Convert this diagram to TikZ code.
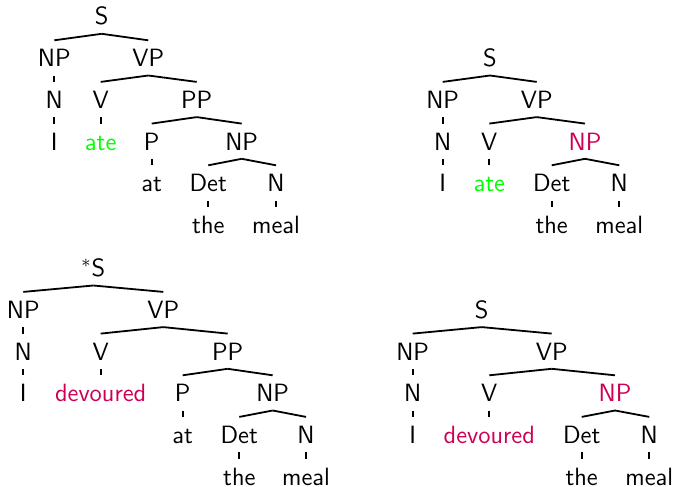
\documentclass[tikz,border=0pt]{standalone}
\usepackage{fontspec}
\definecolor{okgreen}{RGB}{0,255,0}
\definecolor{badred}{RGB}{205,0,85}

\begin{document}
\begin{tikzpicture}[x=0.5pt,y=-0.5pt]
      \useasboundingbox (0,0) rectangle (675,487);

      \begin{scope}[every node/.style={anchor=base, inner sep=0pt, text height=13pt, text depth=4.2pt,
          font=\sffamily\fontsize{12.5}{15}\selectfont}]
        % ate, with PP
        \node (a-s)    at (101.7,25)    {S};
        \node (a-np)   at (54.3,66.7)   {NP};
        \node (a-vp)   at (148.3,66.7)  {VP};
        \node (a-n)    at (54.3,108.3)  {N};
        \node (a-v)    at (100.7,108.3) {V};
        \node (a-pp)   at (196.7,108.3) {PP};
        \node (a-i)    at (54.3,150)    {I};
        \node[text=okgreen] (a-verb) at (100.7,150) {ate};
        \node (a-p)    at (151.7,150)   {P};
        \node (a-obj)  at (241.7,150)   {NP};
        \node (a-at)   at (151.7,191.7) {at};
        \node (a-det)  at (208.3,191.7) {Det};
        \node (a-nn)   at (276,191.7)   {N};
        \node (a-the)  at (208.3,233.3) {the};
        \node (a-meal) at (276,233.3)   {meal};

        % ate, with NP
        \node (b-s)    at (490,66.7)    {S};
        \node (b-np)   at (442.7,108.3) {NP};
        \node (b-vp)   at (536.7,108.3) {VP};
        \node (b-n)    at (442.7,150)   {N};
        \node (b-v)    at (489.3,150)   {V};
        \node[text=badred] (b-obj) at (585,150) {NP};
        \node (b-i)    at (442.7,191.7) {I};
        \node[text=okgreen] (b-verb) at (489.3,191.7) {ate};
        \node (b-det)  at (551.7,191.7) {Det};
        \node (b-nn)   at (619.3,191.7) {N};
        \node (b-the)  at (551.7,233.3) {the};
        \node (b-meal) at (619.3,233.3) {meal};

        % devoured, with PP
        \node (c-s)    at (93.3,276.7)  {$^*$S};
        \node (c-np)   at (23.3,318.3)  {NP};
        \node (c-vp)   at (163.3,318.3) {VP};
        \node (c-n)    at (23.3,360)    {N};
        \node (c-v)    at (100.7,360)   {V};
        \node (c-pp)   at (227.7,360)   {PP};
        \node (c-i)    at (23.3,401.7)  {I};
        \node[text=badred] (c-verb) at (100.7,401.7) {devoured};
        \node (c-p)    at (182.7,401.7) {P};
        \node (c-obj)  at (272.7,401.7) {NP};
        \node (c-at)   at (182.7,443.3) {at};
        \node (c-det)  at (239.3,443.3) {Det};
        \node (c-nn)   at (306,443.3)   {N};
        \node (c-the)  at (239.3,485)   {the};
        \node (c-meal) at (306,485)     {meal};

        % devoured, with NP
        \node (d-s)    at (481.7,318.3) {S};
        \node (d-np)   at (412.7,360)   {NP};
        \node (d-vp)   at (551.7,360)   {VP};
        \node (d-n)    at (412.7,401.7) {N};
        \node (d-v)    at (489.3,401.7) {V};
        \node[text=badred] (d-obj) at (615,401.7) {NP};
        \node (d-i)    at (412.7,443.3) {I};
        \node[text=badred] (d-verb) at (489.3,443.3) {devoured};
        \node (d-det)  at (581.7,443.3) {Det};
        \node (d-nn)   at (649.3,443.3) {N};
        \node (d-the)  at (581.7,485)   {the};
        \node (d-meal) at (649.3,485)   {meal};
      \end{scope}

      \begin{scope}[every edge/.style={draw, line width=0.9pt}]
        \path (a-s.south)   edge (a-np.north);
        \path (a-s.south)   edge (a-vp.north);
        \path (a-np.south)  edge (a-n.north);
        \path (a-n.south)   edge (a-i.north);
        \path (a-vp.south)  edge (a-v.north);
        \path (a-vp.south)  edge (a-pp.north);
        \path (a-v.south)   edge (a-verb.north);
        \path (a-pp.south)  edge (a-p.north);
        \path (a-pp.south)  edge (a-obj.north);
        \path (a-p.south)   edge (a-at.north);
        \path (a-obj.south) edge (a-det.north);
        \path (a-obj.south) edge (a-nn.north);
        \path (a-det.south) edge (a-the.north);
        \path (a-nn.south)  edge (a-meal.north);

        \path (b-s.south)   edge (b-np.north);
        \path (b-s.south)   edge (b-vp.north);
        \path (b-np.south)  edge (b-n.north);
        \path (b-n.south)   edge (b-i.north);
        \path (b-vp.south)  edge (b-v.north);
        \path (b-vp.south)  edge (b-obj.north);
        \path (b-v.south)   edge (b-verb.north);
        \path (b-obj.south) edge (b-det.north);
        \path (b-obj.south) edge (b-nn.north);
        \path (b-det.south) edge (b-the.north);
        \path (b-nn.south)  edge (b-meal.north);

        \path (c-s.south)   edge (c-np.north);
        \path (c-s.south)   edge (c-vp.north);
        \path (c-np.south)  edge (c-n.north);
        \path (c-n.south)   edge (c-i.north);
        \path (c-vp.south)  edge (c-v.north);
        \path (c-vp.south)  edge (c-pp.north);
        \path (c-v.south)   edge (c-verb.north);
        \path (c-pp.south)  edge (c-p.north);
        \path (c-pp.south)  edge (c-obj.north);
        \path (c-p.south)   edge (c-at.north);
        \path (c-obj.south) edge (c-det.north);
        \path (c-obj.south) edge (c-nn.north);
        \path (c-det.south) edge (c-the.north);
        \path (c-nn.south)  edge (c-meal.north);

        \path (d-s.south)   edge (d-np.north);
        \path (d-s.south)   edge (d-vp.north);
        \path (d-np.south)  edge (d-n.north);
        \path (d-n.south)   edge (d-i.north);
        \path (d-vp.south)  edge (d-v.north);
        \path (d-vp.south)  edge (d-obj.north);
        \path (d-v.south)   edge (d-verb.north);
        \path (d-obj.south) edge (d-det.north);
        \path (d-obj.south) edge (d-nn.north);
        \path (d-det.south) edge (d-the.north);
        \path (d-nn.south)  edge (d-meal.north);
      \end{scope}

    \end{tikzpicture}
\end{document}
